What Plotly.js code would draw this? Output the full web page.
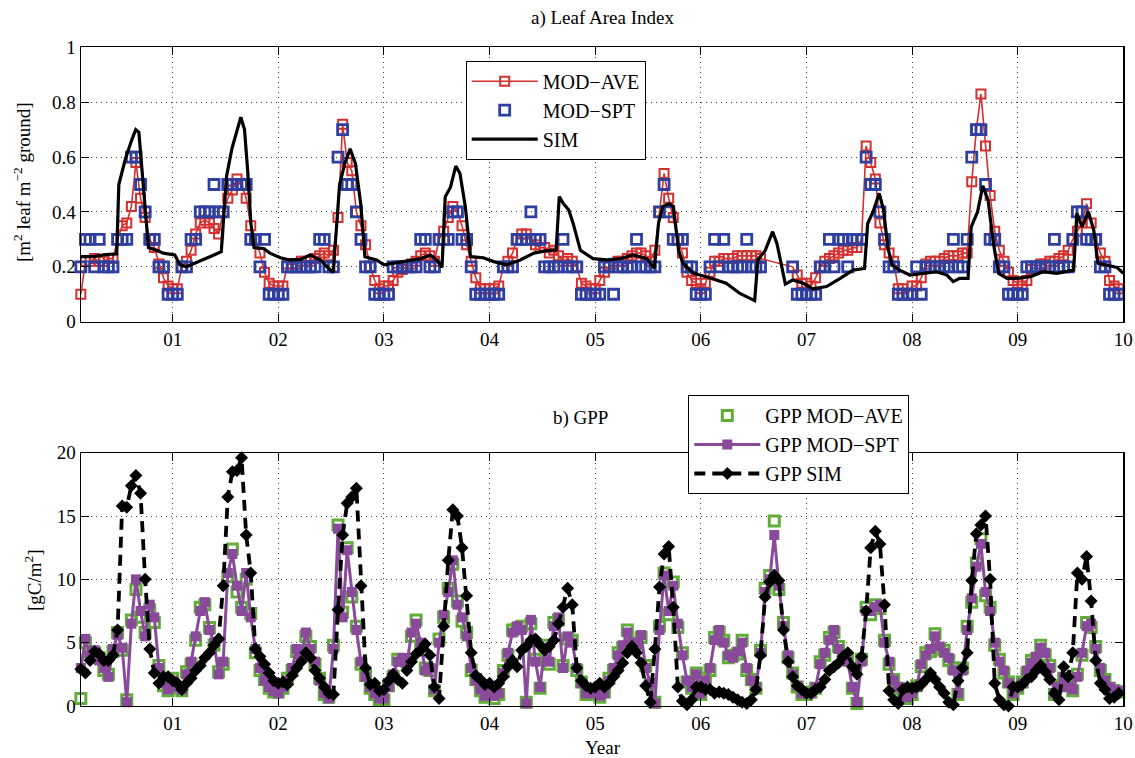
<!DOCTYPE html>
<html>
<head>
<meta charset="utf-8">
<script src="https://cdn.plot.ly/plotly-3.0.1.min.js"></script>
<style>html,body{margin:0;padding:0;background:#fff;}#chart{width:1135px;height:758px;}</style>
</head>
<body>
<div id="chart"></div>
<script>
// ---- axis tick labels ----
const yearTicks = [1, 2, 3, 4, 5, 6, 7, 8, 9, 10];
const yearLabels = ['01', '02', '03', '04', '05', '06', '07', '08', '09', '10'];

// ---- 16-day composites: first year (2000) starts at composite 3, later years have 23 ----
const compositesPerYear = 23;
const firstComposite = 3;
const nYears = 10;

// ---- a) Leaf Area Index, MODIS average (one row per year) ----
const laiModAve = [
  0.10,0.22,0.22,0.23,0.22,0.22,0.23,0.23,0.30,0.35,0.36,0.42,0.58,0.45,0.38,0.30,0.27,0.21,0.16,0.13,
  0.12,0.12,0.20,0.22,0.26,0.32,0.36,0.37,0.36,0.34,0.32,0.40,0.45,0.48,0.52,0.50,0.45,0.35,0.30,0.25,0.18,0.14,0.13,
  0.13,0.13,0.21,0.21,0.21,0.22,0.22,0.22,0.23,0.24,0.25,0.24,0.26,0.38,0.72,0.58,0.55,0.40,0.35,0.28,0.20,0.15,0.12,
  0.13,0.13,0.15,0.18,0.19,0.20,0.21,0.22,0.24,0.25,0.24,0.22,0.30,0.33,0.38,0.42,0.40,0.35,0.28,0.22,0.16,0.12,0.12,
  0.12,0.12,0.13,0.20,0.22,0.25,0.30,0.32,0.32,0.30,0.28,0.27,0.27,0.25,0.26,0.24,0.22,0.23,0.22,0.20,0.14,0.13,0.12,
  0.12,0.15,0.18,0.20,0.21,0.22,0.22,0.23,0.24,0.25,0.25,0.24,0.22,0.26,0.40,0.54,0.45,0.38,0.30,0.25,0.18,0.15,0.14,
  0.12,0.14,0.18,0.22,0.22,0.23,0.23,0.23,0.24,0.24,0.24,0.24,0.24,0.23,null,null,null,null,null,null,0.20,0.17,0.14,
  0.14,0.13,0.16,0.20,0.22,0.23,0.24,0.25,0.26,0.26,0.27,0.27,0.30,0.64,0.58,0.52,0.36,0.28,0.25,0.22,0.12,0.12,0.10,
  0.13,0.13,0.16,0.21,0.22,0.22,0.22,0.23,0.24,0.24,0.24,0.25,0.25,0.51,0.70,0.83,0.64,0.46,0.33,0.26,0.22,0.18,0.15,
  0.14,0.13,0.15,0.19,0.20,0.21,0.21,0.22,0.22,0.23,0.24,0.26,0.30,0.33,0.36,0.43,0.36,0.30,0.25,0.22,0.15,0.13,0.12
];

// ---- a) Leaf Area Index, MODIS spot ----
const laiModSpt = [
  0.2,0.3,0.3,0.2,0.3,0.2,0.2,0.2,0.3,0.3,0.3,0.6,0.6,0.5,0.4,0.3,0.3,0.2,0.2,0.1,
  0.1,0.1,0.2,0.2,0.3,0.3,0.4,0.4,0.4,0.5,0.4,0.4,0.5,0.5,0.5,0.5,0.5,0.3,0.3,0.2,0.3,0.1,0.1,
  0.1,0.1,0.2,0.2,0.2,0.2,0.2,0.2,0.2,0.3,0.3,0.2,0.2,0.6,0.7,0.5,0.5,0.4,0.3,0.2,0.2,0.1,0.1,
  0.1,0.1,0.2,0.2,0.2,0.2,0.2,0.2,0.3,0.3,0.2,0.2,0.3,0.3,0.3,0.4,0.4,0.3,0.3,0.2,0.1,0.1,0.1,
  0.1,0.1,0.1,0.2,0.2,0.2,0.3,0.3,0.3,0.4,0.3,0.3,0.2,0.2,0.2,0.2,0.3,0.2,0.2,0.2,0.1,0.1,0.1,
  0.1,0.1,0.2,0.2,0.1,0.2,0.2,0.2,0.2,0.3,0.2,0.2,0.2,0.2,0.4,0.5,0.4,0.3,0.3,0.3,0.2,0.2,0.1,
  0.1,0.1,0.2,0.3,0.2,0.3,0.2,0.2,0.2,0.2,0.3,0.2,0.2,0.2,null,null,null,null,null,null,0.2,0.1,0.1,
  0.1,0.1,0.1,0.2,0.2,0.3,0.2,0.3,0.3,0.2,0.3,0.3,0.3,0.6,0.5,0.5,0.4,0.3,0.2,0.2,0.1,0.1,0.1,
  0.1,0.2,0.1,0.2,0.2,0.2,0.2,0.2,0.2,0.3,0.2,0.2,0.3,0.6,0.7,0.7,0.5,0.3,0.3,0.2,0.2,0.1,0.1,
  0.1,0.1,0.2,0.2,0.2,0.2,0.2,0.2,0.3,0.2,0.2,0.2,0.3,0.4,0.4,0.3,0.3,0.3,0.2,0.2,0.1,0.1,0.1
];

// ---- a) Leaf Area Index, simulated (own time stamps, decimal year) ----
const laiSimYear = [
  0.13,0.25,0.37,0.47,0.49,0.55,0.61,0.65,0.68,0.71,0.74,0.77,0.85,0.91,
  1.02,1.07,1.13,1.26,1.39,1.46,1.51,1.56,1.61,1.645,1.68,1.71,1.74,1.77,1.86,1.92,
  2.02,2.11,2.21,2.30,2.40,2.46,2.52,2.58,2.63,2.68,2.73,2.78,2.82,2.93,
  3.00,3.09,3.22,3.35,3.44,3.50,3.55,3.58,3.63,3.68,3.72,3.77,3.82,3.94,
  4.04,4.16,4.29,4.42,4.54,4.63,4.66,4.70,4.75,4.79,4.86,4.98,
  5.11,5.24,5.36,5.49,5.56,5.60,5.64,5.70,5.74,5.79,5.83,5.93,
  6.05,6.24,6.37,6.51,6.54,6.61,6.68,6.72,6.76,6.80,6.87,6.97,
  7.06,7.19,7.32,7.44,7.55,7.58,7.63,7.69,7.73,7.77,7.81,7.88,7.98,
  8.11,8.23,8.33,8.39,8.45,8.53,8.56,8.62,8.67,8.72,8.77,8.82,8.90,8.99,
  9.12,9.24,9.37,9.45,9.53,9.56,9.61,9.67,9.72,9.76,9.84,9.94,10.0
];
const laiSim = [
  0.237,0.237,0.245,0.247,0.50,0.59,0.66,0.70,0.69,0.55,0.38,0.27,0.26,0.25,
  0.243,0.207,0.20,0.22,0.243,0.255,0.53,0.63,0.70,0.745,0.70,0.55,0.36,0.27,0.267,0.25,
  0.233,0.225,0.227,0.243,0.225,0.20,0.18,0.50,0.577,0.63,0.577,0.43,0.237,0.225,
  0.207,0.213,0.219,0.23,0.243,0.225,0.198,0.455,0.49,0.567,0.54,0.42,0.237,0.233,
  0.219,0.207,0.225,0.25,0.259,0.261,0.456,0.43,0.407,0.36,0.26,0.23,
  0.225,0.23,0.243,0.23,0.194,0.36,0.42,0.43,0.42,0.26,0.213,0.176,
  0.164,0.14,0.103,0.077,0.225,0.26,0.328,0.286,0.213,0.137,0.152,0.14,
  0.12,0.128,0.158,0.188,0.194,0.358,0.40,0.468,0.407,0.273,0.207,0.188,0.17,
  0.176,0.182,0.17,0.146,0.158,0.158,0.346,0.40,0.495,0.443,0.286,0.176,0.158,0.158,
  0.164,0.182,0.176,0.182,0.188,0.395,0.346,0.40,0.334,0.213,0.207,0.198,0.176
];

// ---- b) GPP, MODIS average ----
const gppModAve = [
  0.6,5.0,4.2,4.2,3.8,2.8,2.5,4.3,5.8,4.4,0.5,6.8,9.2,7.0,5.8,7.6,6.6,3.2,1.6,1.2,
  2.2,1.4,1.2,2.7,3.3,5.2,7.8,8.0,6.2,4.8,2.7,3.3,10.2,12.4,9.0,7.8,10.0,7.3,4.2,2.8,2.1,1.4,1.1,
  1.1,1.4,2.2,2.8,4.3,4.2,5.5,4.7,3.3,2.2,0.9,0.7,4.8,14.3,7.4,12.5,8.6,6.3,3.3,2.4,1.4,0.9,0.5,
  0.5,1.6,2.3,3.7,3.6,3.5,5.5,6.8,4.7,3.0,2.8,1.2,5.3,7.0,9.3,11.2,8.3,6.7,5.8,2.8,2.1,1.2,0.7,
  1.1,0.6,0.9,2.8,4.0,6.0,6.1,6.3,0.3,6.5,3.7,1.4,4.8,3.3,6.6,6.8,3.2,5.3,5.2,2.8,1.9,0.9,0.9,
  1.1,0.7,1.1,2.2,2.8,4.2,4.6,6.0,4.8,5.0,5.4,3.2,1.7,0.3,6.3,10.5,7.2,9.8,6.2,4.2,1.9,1.4,2.6,
  0.9,2.2,2.8,5.4,5.8,5.2,3.8,4.0,4.1,5.2,2.8,2.1,1.4,4.4,9.3,10.3,14.6,9.2,6.6,3.8,2.6,1.5,0.9,
  0.9,1.1,1.4,3.5,4.0,5.4,5.8,4.7,3.8,3.7,1.4,0.2,3.7,7.8,7.2,8.0,7.7,5.2,3.3,2.1,1.4,0.7,0.6,
  0.9,1.6,3.1,4.2,4.3,5.7,4.5,4.4,3.6,3.0,0.9,3.0,6.3,8.2,11.3,13.2,8.7,7.8,4.8,3.7,2.6,1.9,0.9,
  1.4,1.9,2.6,3.6,3.7,4.8,4.0,3.2,0.9,1.6,2.2,1.6,1.2,2.5,4.0,6.6,6.2,4.7,2.8,2.1,1.4,1.2,1.1
];

// ---- b) GPP, MODIS spot ----
const gppModSpt = [
  3.0,5.3,4.0,4.4,3.6,3.0,2.3,4.5,5.6,4.6,0.3,6.5,10.0,7.5,5.5,8.0,7.0,3.0,1.8,1.3,
  2.0,1.5,1.3,2.5,3.5,5.5,7.5,8.2,6.0,5.0,2.5,3.5,10.5,12.0,9.5,7.5,10.5,7.0,4.5,3.0,2.0,1.5,1.2,
  1.0,1.5,2.0,3.0,4.5,4.0,5.8,4.5,3.5,2.0,1.0,0.6,4.5,14.0,7.0,12.3,9.0,6.0,3.5,2.3,1.5,1.0,0.6,
  0.6,1.5,2.5,3.5,3.8,3.3,5.8,6.5,5.0,2.8,3.0,1.3,5.0,7.2,9.0,11.5,8.0,7.0,5.5,3.0,2.0,1.3,0.8,
  1.2,0.8,1.0,2.6,4.2,5.8,6.3,6.0,0.2,6.8,3.5,1.5,4.6,3.5,6.3,7.0,3.0,5.5,5.0,3.0,1.8,1.0,1.0,
  1.2,0.8,1.0,2.0,3.0,4.0,4.8,5.8,5.0,4.8,5.6,3.0,1.8,0.2,6.0,10.3,7.5,9.5,6.5,4.0,2.0,1.5,2.5,
  1.0,2.0,3.0,5.2,6.0,5.0,4.0,3.8,4.3,5.0,3.0,2.0,1.5,4.2,9.0,10.0,13.5,9.5,6.3,4.0,2.5,1.6,1.0,
  1.0,1.0,1.5,3.3,4.2,5.2,6.0,4.5,4.0,3.5,1.5,0.3,3.5,7.5,7.5,7.8,8.0,5.0,3.5,2.0,1.5,0.8,0.7,
  1.0,1.5,3.3,4.0,4.5,5.5,4.7,4.2,3.8,2.8,1.0,2.8,6.0,8.5,11.0,12.8,9.0,7.5,5.0,3.5,2.8,1.8,1.0,
  1.5,1.8,2.8,3.4,3.9,4.6,4.2,3.0,1.0,1.5,2.3,1.5,1.3,2.3,4.2,6.3,6.5,4.5,3.0,2.0,1.5,1.3,1.2
];

// ---- b) GPP, simulated ----
const gppSim = [
  2.9,2.6,3.6,4.3,4.1,3.6,3.6,4.0,6.0,15.8,15.7,17.4,18.2,16.8,10.0,4.5,2.6,1.8,2.3,2.3,
  2.0,1.8,1.3,1.8,2.2,2.8,3.2,3.8,4.2,4.8,5.3,9.5,16.5,18.5,18.6,19.6,13.5,10.5,4.5,3.9,3.3,2.6,2.0,
  1.8,1.9,1.7,2.4,3.0,3.5,4.2,3.8,2.8,2.2,1.5,1.0,0.9,7.6,13.5,16.0,16.5,17.2,9.5,3.0,1.7,1.8,1.2,
  1.3,2.0,2.5,2.1,1.8,2.8,3.5,4.1,4.4,4.9,4.0,1.5,0.6,6.3,11.5,15.5,15.0,12.5,8.7,4.2,2.4,2.1,1.7,
  1.8,1.5,1.8,2.3,3.1,3.6,3.1,4.4,4.7,5.2,5.3,4.8,4.4,4.7,5.2,6.5,7.8,9.3,8.0,3.0,2.0,1.6,1.4,
  1.5,1.8,1.5,1.8,2.3,2.8,3.4,4.2,4.7,4.2,3.4,1.6,0.3,4.5,9.4,12.0,12.6,7.8,1.5,0.4,0.1,0.5,1.5,
  1.5,1.3,1.3,1.0,1.1,1.0,0.9,0.7,0.5,0.3,0.2,0.5,1.3,4.0,8.6,9.8,10.3,9.9,6.0,3.5,2.3,1.6,1.3,
  1.0,1.0,1.3,1.5,2.1,2.8,3.1,3.4,3.9,4.2,3.1,2.5,3.9,7.5,12.5,13.8,12.8,8.0,1.2,0.5,0.2,1.3,1.5,
  1.4,1.5,1.7,2.1,2.6,2.1,1.5,1.0,0.3,0.1,2.0,3.0,4.2,9.9,13.6,14.3,15.0,10.0,1.8,0.5,0.1,0.0,1.5,
  1.5,1.7,2.1,2.3,2.8,3.2,2.7,2.1,1.0,0.5,3.1,2.3,4.2,10.5,10.0,11.8,8.3,3.6,1.8,1.3,0.6,0.7,1.0
];

// composite time stamps (decimal years since 2000)
const compYear = [];
for (let y = 0; y < nYears; y++) {
  for (let j = (y === 0 ? firstComposite : 0); j < compositesPerYear; j++) {
    compYear.push(y + j / compositesPerYear);
  }
}

const FONT = 'Liberation Serif, Times New Roman, serif';
const RED = '#d3302f', BLUE = '#2f3f9f', GREEN = '#62ad3a', PURPLE = '#8a4a9b';

const traces = [
  {x: compYear, y: laiModAve, name: 'MOD\u2212AVE', type: 'scatter', mode: 'lines+markers',
   connectgaps: true, cliponaxis: false, xaxis: 'x', yaxis: 'y', legend: 'legend',
   line: {color: RED, width: 1.6},
   marker: {symbol: 'square-open', size: 9, color: RED, line: {color: RED, width: 2}}},
  {x: compYear, y: laiModSpt, name: 'MOD\u2212SPT', type: 'scatter', mode: 'markers',
   cliponaxis: false, xaxis: 'x', yaxis: 'y', legend: 'legend',
   marker: {symbol: 'square-open', size: 10, color: BLUE, line: {color: BLUE, width: 2.8}}},
  {x: laiSimYear, y: laiSim, name: 'SIM', type: 'scatter', mode: 'lines',
   cliponaxis: false, xaxis: 'x', yaxis: 'y', legend: 'legend',
   line: {color: '#000', width: 3.2}},
  {x: compYear, y: gppModAve, name: 'GPP MOD\u2212AVE', type: 'scatter', mode: 'markers',
   cliponaxis: false, xaxis: 'x2', yaxis: 'y2', legend: 'legend2',
   marker: {symbol: 'square-open', size: 10, color: GREEN, line: {color: GREEN, width: 3}}},
  {x: compYear, y: gppModSpt, name: 'GPP MOD\u2212SPT', type: 'scatter', mode: 'lines+markers',
   cliponaxis: false, xaxis: 'x2', yaxis: 'y2', legend: 'legend2',
   line: {color: PURPLE, width: 3},
   marker: {symbol: 'square', size: 10, color: PURPLE}},
  {x: compYear, y: gppSim, name: 'GPP SIM', type: 'scatter', mode: 'lines+markers',
   cliponaxis: false, xaxis: 'x2', yaxis: 'y2', legend: 'legend2',
   line: {color: '#000', width: 3.8, dash: '11px,7px'},
   marker: {symbol: 'diamond', size: 10, color: '#000'}}
];

const W = 1135, H = 758;
const xDom = [80.7 / W, 1123.3 / W];
const gridDash = '1px,4px';
const xAxisCommon = {
  domain: xDom, range: [0.129, 10], tickmode: 'array', tickvals: yearTicks, ticktext: yearLabels,
  ticks: 'inside', ticklen: 8, tickwidth: 1, tickcolor: '#000',
  showline: true, linecolor: '#000', linewidth: 1.2, mirror: 'ticks',
  showgrid: true, gridcolor: '#444', gridwidth: 1, griddash: gridDash, zeroline: false,
  tickfont: {family: FONT, size: 19, color: '#000'}, fixedrange: true
};
const yAxisCommon = {
  ticks: 'inside', ticklen: 8, tickwidth: 1, tickcolor: '#000',
  showline: true, linecolor: '#000', linewidth: 1.2, mirror: 'ticks',
  showgrid: true, gridcolor: '#444', gridwidth: 1, griddash: gridDash, zeroline: false,
  tickfont: {family: FONT, size: 19, color: '#000'}, fixedrange: true
};

const legendCommon = {
  font: {family: FONT, size: 20, color: '#000'}, bgcolor: '#fff',
  bordercolor: '#000', borderwidth: 1, xanchor: 'left', yanchor: 'top',
  tracegroupgap: 0, itemwidth: 66
};

const layout = {
  width: W, height: H, paper_bgcolor: '#fff', plot_bgcolor: '#fff',
  margin: {l: 0, r: 0, t: 0, b: 0},
  font: {family: FONT, size: 19, color: '#000'},
  showlegend: true,
  xaxis: Object.assign({}, xAxisCommon, {anchor: 'y'}),
  yaxis: Object.assign({}, yAxisCommon, {domain: [(H - 321.7) / H, (H - 47.3) / H], range: [0, 1],
    tickvals: [0, 0.2, 0.4, 0.6, 0.8, 1], ticktext: ['0', '0.2', '0.4', '0.6', '0.8', '1'], anchor: 'x'}),
  xaxis2: Object.assign({}, xAxisCommon, {anchor: 'y2'}),
  yaxis2: Object.assign({}, yAxisCommon, {domain: [(H - 706) / H, (H - 452.7) / H], range: [0, 20],
    tickvals: [0, 5, 10, 15, 20], ticktext: ['0', '5', '10', '15', '20'], anchor: 'x2'}),
  legend: Object.assign({}, legendCommon, {x: 465.7 / W, y: (H - 60.7) / H}),
  legend2: Object.assign({}, legendCommon, {x: 688.3 / W, y: (H - 395) / H}),
  annotations: [
    {text: 'a) Leaf Area Index', xref: 'paper', yref: 'paper', x: 602 / W, y: (H - 18) / H,
     xanchor: 'center', yanchor: 'middle', showarrow: false, font: {family: FONT, size: 19}},
    {text: 'b) GPP', xref: 'paper', yref: 'paper', x: 580 / W, y: (H - 418) / H,
     xanchor: 'center', yanchor: 'middle', showarrow: false, font: {family: FONT, size: 19}},
    {text: 'Year', xref: 'paper', yref: 'paper', x: 603 / W, y: (H - 747) / H,
     xanchor: 'center', yanchor: 'middle', showarrow: false, font: {family: FONT, size: 19}},
    {text: '[m<sup>2</sup> leaf m<sup>\u22122</sup> ground]', xref: 'paper', yref: 'paper',
     x: 22 / W, y: (H - 182) / H, textangle: -90,
     xanchor: 'center', yanchor: 'middle', showarrow: false, font: {family: FONT, size: 19}},
    {text: '[gC/m<sup>2</sup>]', xref: 'paper', yref: 'paper', x: 33 / W, y: (H - 580) / H, textangle: -90,
     xanchor: 'center', yanchor: 'middle', showarrow: false, font: {family: FONT, size: 19}}
  ]
};

Plotly.newPlot('chart', traces, layout, {displayModeBar: false, staticPlot: true});
</script>
</body>
</html>
